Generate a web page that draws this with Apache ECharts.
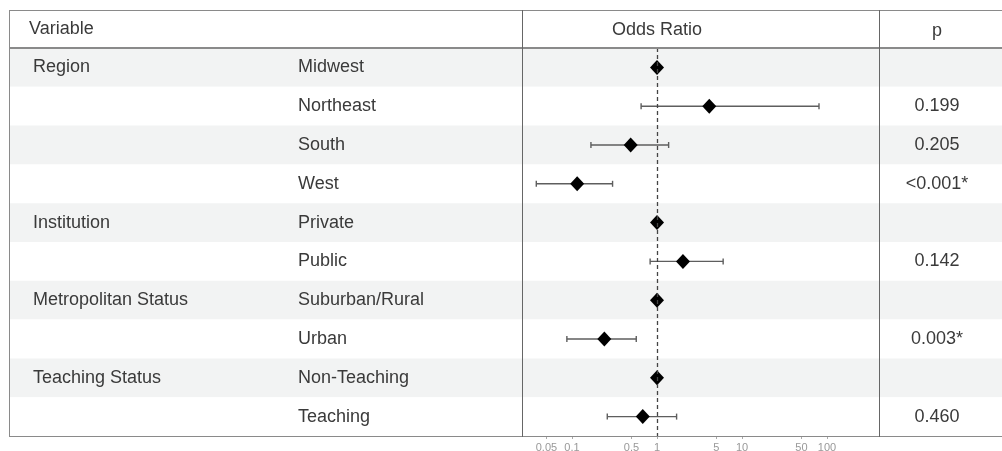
<!DOCTYPE html>
<html>
<head>
<meta charset="utf-8">
<script src="https://cdn.jsdelivr.net/npm/echarts@6/dist/echarts.min.js"></script>
<style>html,body{margin:0;padding:0;background:#fff}#c{width:1002px;height:451px}</style>
</head>
<body>
<div id="c"></div>
<script>
// ---- data ----
var groups = ['Region', '', '', '', 'Institution', '', 'Metropolitan Status', '', 'Teaching Status', ''];
var levels = ['Midwest', 'Northeast', 'South', 'West', 'Private', 'Public', 'Suburban/Rural', 'Urban', 'Non-Teaching', 'Teaching'];
var oddsRatio = [1, 4.12, 0.49, 0.115, 1, 2.02, 1, 0.24, 1, 0.68];
var ciLow = [null, 0.65, 0.167, 0.038, null, 0.83, null, 0.087, null, 0.26];
var ciHigh = [null, 80.5, 1.37, 0.30, null, 6.0, null, 0.57, null, 1.70];
var pValues = ['', '0.199', '0.205', '<0.001*', '', '0.142', '', '0.003*', '', '0.460'];
var tickValues = [0.05, 0.1, 0.5, 1, 5, 10, 50, 100];
var headers = ['Variable', 'Odds Ratio', 'p'];

// ---- layout ----
var W = 1002, H = 451;
var tableLeft = 10, tableTop = 10, headBottom = 48, tableBottom = 436;
var col1 = 522, col2 = 879;
var FONT = 'Liberation Sans';
var TXT = '#3a3a3a';
var LINE = '#8a8a8a';

var pointData = oddsRatio.map(function (v, i) { return [v, i]; });
var ciData = [];
ciLow.forEach(function (lo, i) { if (lo != null) ciData.push([lo, i, ciHigh[i]]); });

var chart = echarts.init(document.getElementById('c'), null, {renderer: 'canvas'});
chart.setOption({
  animation: false,
  backgroundColor: '#fff',
  textStyle: {fontFamily: FONT},
  grid: [
    {left: tableLeft, right: 0, top: headBottom, bottom: H - tableBottom, outerBoundsMode: 'none', containLabel: false},
    {left: col1, right: W - col2, top: headBottom, bottom: H - tableBottom, outerBoundsMode: 'none', containLabel: false}
  ],
  xAxis: [
    {gridIndex: 0, type: 'value', min: 0, max: 1, show: false},
    {gridIndex: 1, type: 'log', min: 0.0258, max: 409,
      axisLine: {show: false},
      splitLine: {show: false},
      axisTick: {show: true, length: 3, customValues: tickValues, lineStyle: {color: '#aaa'}},
      axisLabel: {customValues: tickValues, color: '#999', fontSize: 11, margin: 6, fontFamily: FONT,
        formatter: function (v) { return String(+v.toPrecision(6)); }}
    }
  ],
  yAxis: [
    {gridIndex: 0, type: 'category', inverse: true, data: groups, position: 'left',
      axisLine: {show: false}, axisTick: {show: false},
      axisLabel: {inside: true, align: 'left', margin: 23, fontSize: 18, color: TXT, fontFamily: FONT},
      splitLine: {show: false},
      splitArea: {show: true, areaStyle: {color: ['#f2f3f3', '#ffffff']}}
    },
    {gridIndex: 0, type: 'category', inverse: true, data: levels, position: 'left', offset: -288,
      axisLine: {show: false}, axisTick: {show: false},
      axisLabel: {inside: true, align: 'left', margin: 0, fontSize: 18, color: TXT, fontFamily: FONT},
      splitLine: {show: false}, splitArea: {show: false}
    },
    {gridIndex: 1, type: 'category', inverse: true, data: pValues, position: 'right',
      axisLine: {show: false}, axisTick: {show: false},
      axisLabel: {align: 'center', margin: 58, fontSize: 18, color: TXT, fontFamily: FONT},
      splitLine: {show: false}, splitArea: {show: false}
    }
  ],
  series: [
    {
      type: 'custom', xAxisIndex: 1, yAxisIndex: 2, data: ciData, z: 3,
      renderItem: function (params, api) {
        var y = api.value(1);
        var p1 = api.coord([api.value(0), y]);
        var p2 = api.coord([api.value(2), y]);
        var cap = 3;
        var st = {stroke: '#5e5e5e', lineWidth: 1.4};
        return {type: 'group', children: [
          {type: 'line', shape: {x1: p1[0], y1: p1[1], x2: p2[0], y2: p2[1]}, style: st},
          {type: 'line', shape: {x1: p1[0], y1: p1[1] - cap, x2: p1[0], y2: p1[1] + cap}, style: st},
          {type: 'line', shape: {x1: p2[0], y1: p2[1] - cap, x2: p2[0], y2: p2[1] + cap}, style: st}
        ]};
      }
    },
    {
      type: 'scatter', xAxisIndex: 1, yAxisIndex: 2, data: pointData, z: 4,
      symbol: 'diamond', symbolSize: [14, 15],
      itemStyle: {color: '#000', opacity: 1},
      markLine: {
        silent: true, symbol: 'none', label: {show: false},
        lineStyle: {color: '#444', type: [4, 3], width: 1.3},
        data: [{xAxis: 1}]
      }
    }
  ],
  graphic: [
    {type: 'line', z: 10, shape: {x1: tableLeft, y1: tableTop + 0.5, x2: W, y2: tableTop + 0.5}, style: {stroke: LINE, lineWidth: 1}},
    {type: 'line', z: 10, shape: {x1: tableLeft, y1: headBottom, x2: W, y2: headBottom}, style: {stroke: LINE, lineWidth: 2}},
    {type: 'line', z: 10, shape: {x1: tableLeft, y1: tableBottom + 0.5, x2: W, y2: tableBottom + 0.5}, style: {stroke: LINE, lineWidth: 1}},
    {type: 'line', z: 10, shape: {x1: tableLeft - 0.5, y1: tableTop, x2: tableLeft - 0.5, y2: tableBottom + 1}, style: {stroke: LINE, lineWidth: 1}},
    {type: 'line', z: 10, shape: {x1: col1 + 0.5, y1: tableTop, x2: col1 + 0.5, y2: tableBottom + 1}, style: {stroke: '#666', lineWidth: 1}},
    {type: 'line', z: 10, shape: {x1: col2 + 0.5, y1: tableTop, x2: col2 + 0.5, y2: tableBottom + 1}, style: {stroke: '#666', lineWidth: 1}},
    {type: 'text', z: 10, x: 29, y: 29, style: {text: headers[0], font: '18px "' + FONT + '"', fill: TXT, textAlign: 'left', textVerticalAlign: 'middle'}},
    {type: 'text', z: 10, x: 657, y: 30, style: {text: headers[1], font: '18px "' + FONT + '"', fill: TXT, textAlign: 'center', textVerticalAlign: 'middle'}},
    {type: 'text', z: 10, x: 937, y: 31, style: {text: headers[2], font: '18px "' + FONT + '"', fill: TXT, textAlign: 'center', textVerticalAlign: 'middle'}}
  ]
});
</script>
</body>
</html>
